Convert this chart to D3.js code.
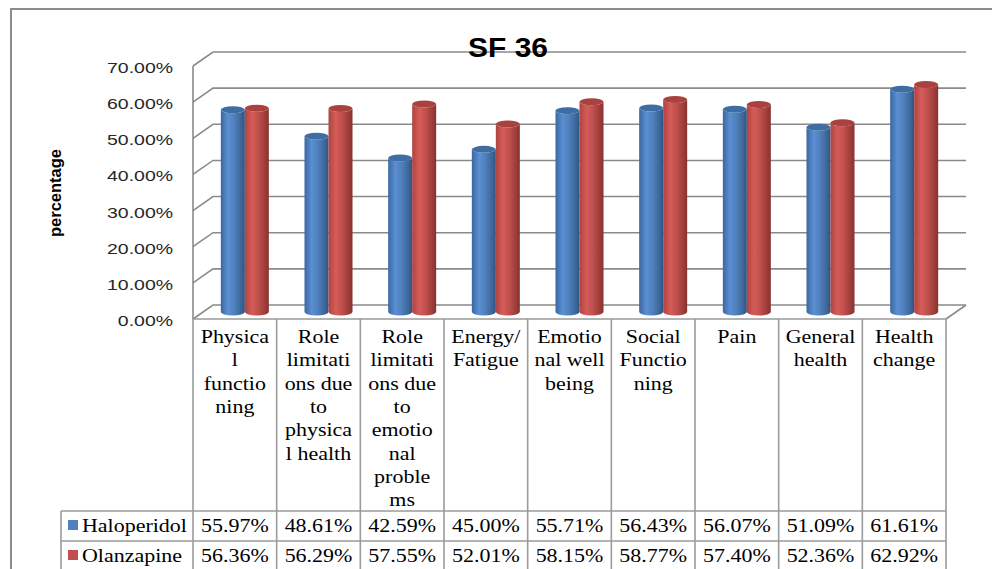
<!DOCTYPE html>
<html>
<head>
<meta charset="utf-8">
<script src="https://cdn.jsdelivr.net/npm/d3@7"></script>
<style>
  html, body { margin: 0; padding: 0; background: #fff; }
  svg { display: block; }
  .serif { font-family: "Liberation Serif", "DejaVu Serif", "Noto Serif", serif; }
  .sans { font-family: "Liberation Sans", Arial, sans-serif; }
</style>
</head>
<body>
<svg id="chart" width="992" height="569"></svg>
<script>
// ---- data ----
const categories = [
  "Physical functioning",
  "Role limitations due to physical health",
  "Role limitations due to emotional problems",
  "Energy/ Fatigue",
  "Emotional well being",
  "Social Functioning",
  "Pain",
  "General health",
  "Health change"
];
// wrapped header text as it appears in the data-table cells
const categoryLines = [
  ["Physica", "l", "functio", "ning"],
  ["Role", "limitati", "ons due", "to", "physica", "l health"],
  ["Role", "limitati", "ons due", "to", "emotio", "nal", "proble", "ms"],
  ["Energy/", "Fatigue"],
  ["Emotio", "nal well", "being"],
  ["Social", "Functio", "ning"],
  ["Pain"],
  ["General", "health"],
  ["Health", "change"]
];
const seriesNames = ["Haloperidol", "Olanzapine"];
const haloperidol = [55.97, 48.61, 42.59, 45.00, 55.71, 56.43, 56.07, 51.09, 61.61];
const olanzapine  = [56.36, 56.29, 57.55, 52.01, 58.15, 58.77, 57.40, 52.36, 62.92];
const yTicks = [0, 10, 20, 30, 40, 50, 60, 70];
const titleText = "SF 36";
const yAxisTitle = "percentage";

// ---- layout ----
const svg = d3.select("#chart");
const W = 992, H = 569;
const plotLeft = 193, plotRight = 946;
const floorFront = 319, topFront = 66;
const depthX = 20, depthY = -14;          // offset from front edge to back wall
const gridColor = "#8a8a8a";
const tableColor = "#9a9a9a";

const x = d3.scaleBand().domain(categories).range([plotLeft, plotRight]).padding(0);
const yFront = d3.scaleLinear().domain([0, 70]).range([floorFront, topFront]);
const yBack = v => yFront(v) + depthY;
const yMid = v => yFront(v) + depthY / 2;
const fmt = d3.format(".2%");

// horizontal stretch so that a sample string spans a given width in the chosen face
function widthScale(cls, size, weight, sample, targetWidth) {
  const t = svg.append("text").attr("class", cls).attr("font-size", size)
    .attr("font-weight", weight).text(sample);
  const w = t.node().getComputedTextLength();
  t.remove();
  return w > 0 ? targetWidth / w : 1;
}

function stretchedText(parent, px, py, txt, o) {
  return parent.append("text")
    .attr("class", o.cls)
    .attr("transform", `translate(${px},${py}) scale(${o.sx || 1},1)`)
    .attr("text-anchor", o.anchor || "middle")
    .attr("font-size", o.size)
    .attr("font-weight", o.weight || "normal")
    .attr("fill", o.fill || "#000")
    .text(txt);
}

// ---- gradients for the cylinders ----
const defs = svg.append("defs");
const palettes = [
  { id: "gradBlue", stops: ["#3a67a1", "#5b8fd3", "#4f81bd", "#3d6699", "#2f5382"], top: "#3f6da3" },
  { id: "gradRed",  stops: ["#ad4441", "#d55c58", "#c0504d", "#9d3c39", "#853230"], top: "#a9423f" }
];
palettes.forEach(p => {
  const g = defs.append("linearGradient").attr("id", p.id)
    .attr("x1", "0%").attr("x2", "100%").attr("y1", "0%").attr("y2", "0%");
  [0, 0.3, 0.55, 0.85, 1].forEach((o, i) =>
    g.append("stop").attr("offset", o).attr("stop-color", p.stops[i]));
});

// ---- outer frame ----
svg.append("path")
  .attr("d", `M11,${H + 2} L11,9 L${W + 2},9`)
  .attr("fill", "none").attr("stroke", "#8c8c8c").attr("stroke-width", 2);

// ---- walls and gridlines ----
const walls = svg.append("g").attr("fill", "none").attr("stroke", gridColor).attr("stroke-width", 1.6);
yTicks.forEach(v => {
  walls.append("path")
    .attr("d", `M${plotLeft},${yFront(v)} L${plotLeft + depthX},${yBack(v)} L${plotRight + depthX},${yBack(v)}`);
});
walls.append("line")
  .attr("x1", plotLeft).attr("x2", plotLeft)
  .attr("y1", yFront(70)).attr("y2", floorFront);
walls.append("line")
  .attr("x1", plotRight).attr("y1", floorFront)
  .attr("x2", plotRight + depthX).attr("y2", floorFront + depthY);

// ---- y tick labels ----
const tickSx = widthScale("sans", 15.5, "normal", "70.00%", 66);
yTicks.forEach(v => {
  stretchedText(svg, 173, yFront(v) + 7, fmt(v / 100),
    { cls: "sans", anchor: "end", size: 15.5, sx: tickSx, fill: "#262626" });
});

// y axis title
svg.append("text")
  .attr("class", "sans")
  .attr("transform", `translate(61,193) rotate(-90)`)
  .attr("text-anchor", "middle")
  .attr("font-size", 16.5).attr("font-weight", "bold")
  .attr("fill", "#000")
  .text(yAxisTitle);

// ---- cylinders ----
const values = [haloperidol, olanzapine];
const xs = d3.scaleBand().domain(seriesNames).range([-24, 24]).padding(0);
const ry = 3.5;
const bars = svg.append("g");
categories.forEach((c, i) => {
  const cx = x(c) + x.bandwidth() / 2 + depthX / 2;
  seriesNames.forEach((s, j) => {
    const v = values[j][i];
    const x0 = cx + xs(s), x1 = x0 + xs.bandwidth();
    const rx = xs.bandwidth() / 2;
    const yt = yMid(v), yb = yMid(0);
    bars.append("path")
      .attr("d", `M${x0},${yt} L${x0},${yb} A${rx},${ry} 0 0 0 ${x1},${yb} L${x1},${yt} A${rx},${ry} 0 0 1 ${x0},${yt} Z`)
      .attr("fill", `url(#${palettes[j].id})`);
    bars.append("ellipse")
      .attr("cx", (x0 + x1) / 2).attr("cy", yt)
      .attr("rx", rx).attr("ry", ry)
      .attr("fill", palettes[j].top);
  });
});

// ---- title (drawn over the top gridline) ----
const titleSx = widthScale("sans", 28, "bold", titleText, 80);
stretchedText(svg, 508, 57, titleText,
  { cls: "sans", size: 28, weight: "bold", sx: titleSx, fill: "#000" });

// ---- data table ----
const table = svg.append("g").attr("stroke", tableColor).attr("stroke-width", 1.6).attr("fill", "none");
const rowTop = 511, rowMid = 541, rowBot = 571, legendLeft = 61;
table.append("line").attr("x1", plotLeft).attr("x2", plotRight).attr("y1", floorFront).attr("y2", floorFront);
categories.forEach(c => {
  table.append("line").attr("x1", x(c)).attr("x2", x(c)).attr("y1", floorFront).attr("y2", H + 2);
});
table.append("line").attr("x1", plotRight).attr("x2", plotRight).attr("y1", floorFront).attr("y2", H + 2);
[rowTop, rowMid, rowBot].forEach(yy => {
  table.append("line").attr("x1", legendLeft).attr("x2", plotRight).attr("y1", yy).attr("y2", yy);
});
table.append("line").attr("x1", legendLeft).attr("x2", legendLeft).attr("y1", rowTop).attr("y2", H + 2);

// header cells
const serifSx = widthScale("serif", 18, "normal", "Haloperidol", 105);
const serifOpts = { cls: "serif", size: 18, sx: serifSx, fill: "#000" };
categories.forEach((c, i) => {
  const cx = x(c) + x.bandwidth() / 2;
  categoryLines[i].forEach((ln, k) => {
    stretchedText(svg, cx, 343 + k * 23.3, ln, serifOpts);
  });
});

// series rows
const legendColors = ["#4f81bd", "#c0504d"];
seriesNames.forEach((s, j) => {
  const top = j === 0 ? rowTop : rowMid;
  svg.append("rect")
    .attr("x", 68).attr("y", top + 9).attr("width", 10).attr("height", 10)
    .attr("fill", legendColors[j]);
  stretchedText(svg, 82, top + 21, s, Object.assign({}, serifOpts, { anchor: "start" }));
  categories.forEach((c, i) => {
    stretchedText(svg, x(c) + x.bandwidth() / 2, top + 21, fmt(values[j][i] / 100), serifOpts);
  });
});
</script>
</body>
</html>
